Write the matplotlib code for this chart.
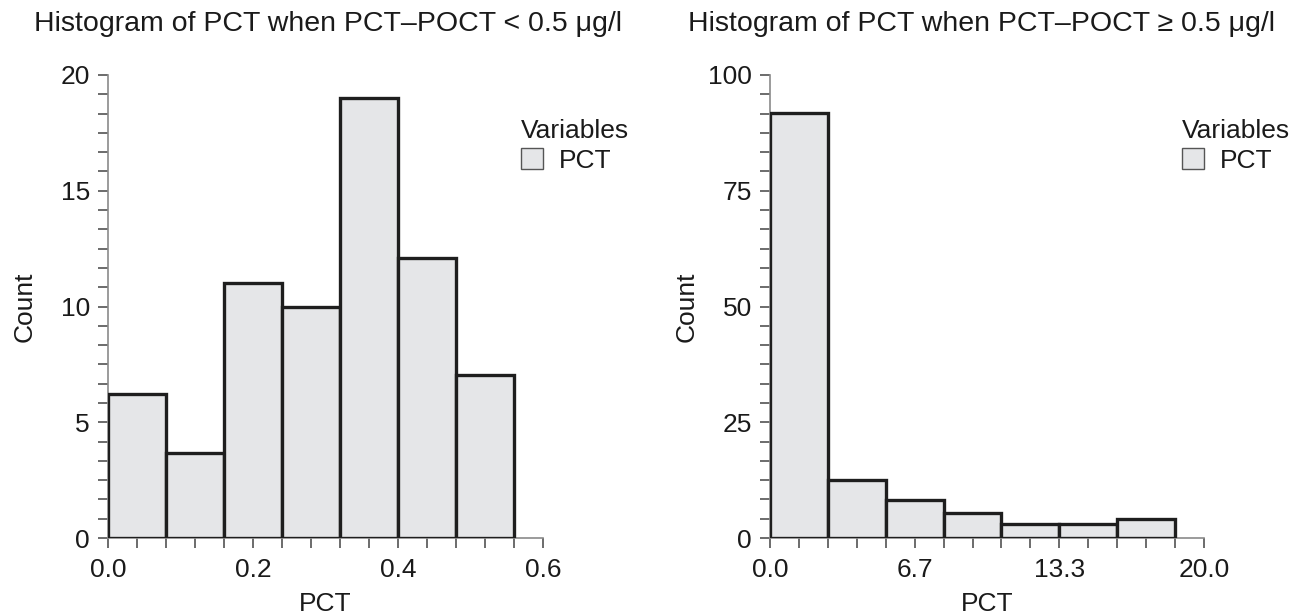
import numpy as np
import matplotlib
matplotlib.use("Agg")
import matplotlib.pyplot as plt
from matplotlib.ticker import MultipleLocator
from matplotlib.patches import Patch

# ---- data ----
left_edges = [0.0, 0.08, 0.16, 0.24, 0.32, 0.40, 0.48, 0.56]
left_counts = [6.2, 3.67, 11.0, 10.0, 19.0, 12.1, 7.05]
right_edges = [0.0, 20/7.5, 2*20/7.5, 3*20/7.5, 4*20/7.5, 5*20/7.5, 6*20/7.5, 7*20/7.5]
right_counts = [91.7, 12.5, 8.3, 5.4, 3.0, 3.0, 4.2]
left_xticks = [0.0, 0.2, 0.4, 0.6]
left_xticklabels = ["0.0", "0.2", "0.4", "0.6"]
right_xticks = [0.0, 20/3, 40/3, 20.0]
right_xticklabels = ["0.0", "6.7", "13.3", "20.0"]
left_yticks = [0, 5, 10, 15, 20]
right_yticks = [0, 25, 50, 75, 100]
titles = ["Histogram of PCT when PCT\u2013POCT < 0.5 \u03bcg/l",
          "Histogram of PCT when PCT\u2013POCT \u2265 0.5 \u03bcg/l"]
series_name = "PCT"
legend_title = "Variables"

plt.rcParams['font.family'] = ['Liberation Sans', 'DejaVu Sans']

W, H = 1295, 615
fig = plt.figure(figsize=(W/100, H/100), dpi=100)

FILL = "#e5e6e8"
EDGE = "#1e1e1e"
SPINE = "#8a8a8a"
TICKC = "#444444"
TXT = "#1a1a1a"
FS = 19

def px_ax(x0, x1, y0, y1):
    return fig.add_axes([x0/W, 1 - y0/H, (x1-x0)/W, (y0-y1)/H])

configs = [
    dict(box=(108, 543, 538, 75), edges=left_edges, counts=left_counts,
         xlim=(0, 0.6), ylim=(0, 20), xt=left_xticks, xtl=left_xticklabels,
         yt=left_yticks, xminor=0.04, yminor=5/6, title=titles[0],
         title_x=328, leg_x=521),
    dict(box=(770, 1204, 538, 75), edges=right_edges, counts=right_counts,
         xlim=(0, 20), ylim=(0, 100), xt=right_xticks, xtl=right_xticklabels,
         yt=right_yticks, xminor=20/15, yminor=25/6, title=titles[1],
         title_x=982, leg_x=1182),
]

for c in configs:
    ax = px_ax(*c['box'])
    e = np.array(c['edges'])
    ax.bar(e[:-1], c['counts'], width=np.diff(e), align='edge',
           color=FILL, edgecolor=EDGE, linewidth=2.4, zorder=3)
    ax.set_xlim(*c['xlim'])
    ax.set_ylim(*c['ylim'])
    for s in ['top', 'right']:
        ax.spines[s].set_visible(False)
    for s in ['left', 'bottom']:
        ax.spines[s].set_color(SPINE)
        ax.spines[s].set_linewidth(1.2)
    ax.set_xticks(c['xt'])
    ax.set_xticklabels(c['xtl'])
    ax.set_yticks(c['yt'])
    ax.xaxis.set_minor_locator(MultipleLocator(c['xminor']))
    ax.yaxis.set_minor_locator(MultipleLocator(c['yminor']))
    ax.tick_params(which='both', direction='out', length=7.5, width=1.1,
                   color=TICKC, labelsize=FS, labelcolor=TXT)
    ax.tick_params(axis='x', which='both', pad=7)
    ax.tick_params(axis='y', which='both', pad=5.5)
    ax.set_xlabel("PCT", fontsize=FS, color=TXT, labelpad=7)
    ax.set_ylabel("Count", fontsize=FS, color=TXT)
    axw = c['box'][1] - c['box'][0]
    ax.yaxis.set_label_coords(-71/axw, 0.5)
    fig.text(c['title_x']/W, 1 - 31/H, c['title'], ha='center', va='baseline',
             fontsize=20.5, color=TXT)
    handle = Patch(facecolor=FILL, edgecolor='#555555', linewidth=1.0)
    leg = fig.legend([handle], [series_name], title=legend_title,
                     loc='upper left', bbox_to_anchor=(c['leg_x']/W, 1 - 119/H),
                     frameon=False, fontsize=FS, title_fontsize=FS,
                     handlelength=0.85, handleheight=0.85, handletextpad=0.6,
                     alignment='left', borderaxespad=0, borderpad=0,
                     labelspacing=0.2)
    leg.get_title().set_color(TXT)
    for t in leg.get_texts():
        t.set_color(TXT)

fig.savefig("out.png", dpi=100)
